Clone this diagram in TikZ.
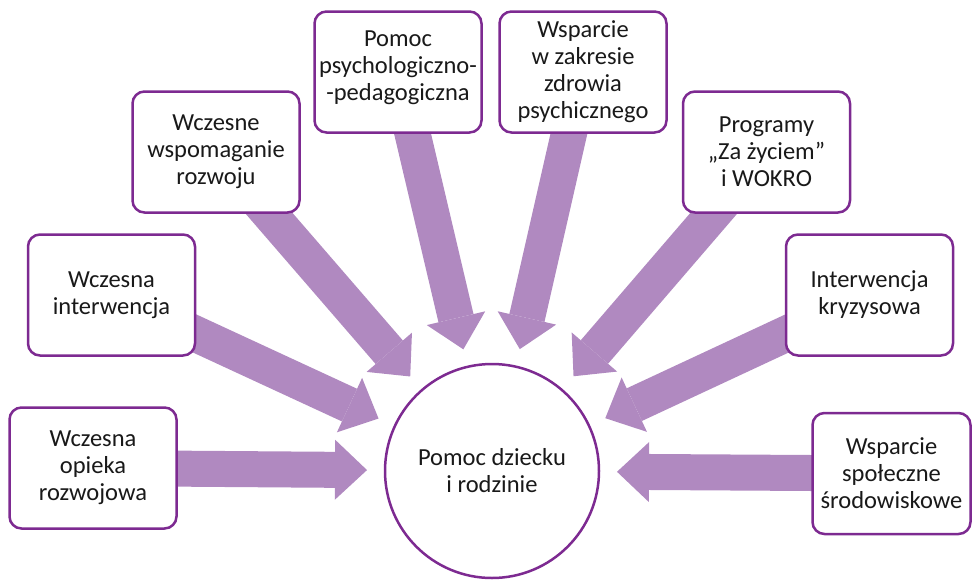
\documentclass[tikz,border=0pt]{standalone}
\usepackage{fontspec}
\setmainfont{Carlito}
\usetikzlibrary{arrows.meta,calc,backgrounds}

\definecolor{boxline}{RGB}{125,42,145}
\definecolor{arrowfill}{RGB}{176,137,192}
\definecolor{boxtext}{RGB}{25,25,25}

\begin{document}
\begin{tikzpicture}[x=1pt,y=-1pt,
    box/.style={draw=boxline,line width=2.5pt,fill=white,rounded corners=12pt,
      minimum width=167pt,minimum height=121pt,align=center,text=boxtext,
      font=\fontsize{24.5}{27}\selectfont,inner sep=1pt},
    hub/.style={draw=boxline,line width=2.5pt,fill=white,circle,minimum size=214pt,
      align=center,text=boxtext,font=\fontsize{24.5}{27}\selectfont},
    bigarrow/.style={draw=arrowfill,line width=36pt,
      -{Triangle[length=32pt,width=60pt,line width=0pt]}}]

    \useasboundingbox (0,0) rectangle (972,579);

    % The main circle
    \node[hub] (hub) at (492,471) {Pomoc dziecku\\i rodzinie};

    % The boxes round it
    \node[box] (opieka) at (93,468) {Wczesna\\opieka\\rozwojowa};
    \node[box] (interw) at (111.5,295) {Wczesna\\interwencja};
    \node[box] (wspom) at (216,152) {Wczesne\\wspomaganie\\rozwoju};
    \node[box] (ppp) at (398,72) {Pomoc\\psychologiczno-\\-pedagogiczna\\[-15pt]\mbox{}};
    \node[box] (zdrow) at (583,72) {Wsparcie\\w zakresie\\zdrowia\\psychicznego};
    \node[box] (progr) at (766.5,152) {Programy\\„Za życiem”\\i WOKRO};
    \node[box] (kryzys) at (869.5,295) {Interwencja\\kryzysowa};
    \node[box,minimum width=158pt] (srod) at (891.5,473.5) {Wsparcie\\społeczne\\środowiskowe};

    % The arrow tips, all at the same distance from the circle centre
    \foreach \n in {opieka,interw,wspom,ppp,zdrow,progr,kryzys,srod}
      \coordinate (tip-\n) at ($(hub.center)!125pt!(\n.center)$);

    % The arrows, under the boxes
    \begin{scope}[on background layer]
      \foreach \n in {opieka,interw,wspom,ppp,zdrow,progr,kryzys,srod}
        \draw[bigarrow] (\n.center) -- (tip-\n);
    \end{scope}
  \end{tikzpicture}
\end{document}
